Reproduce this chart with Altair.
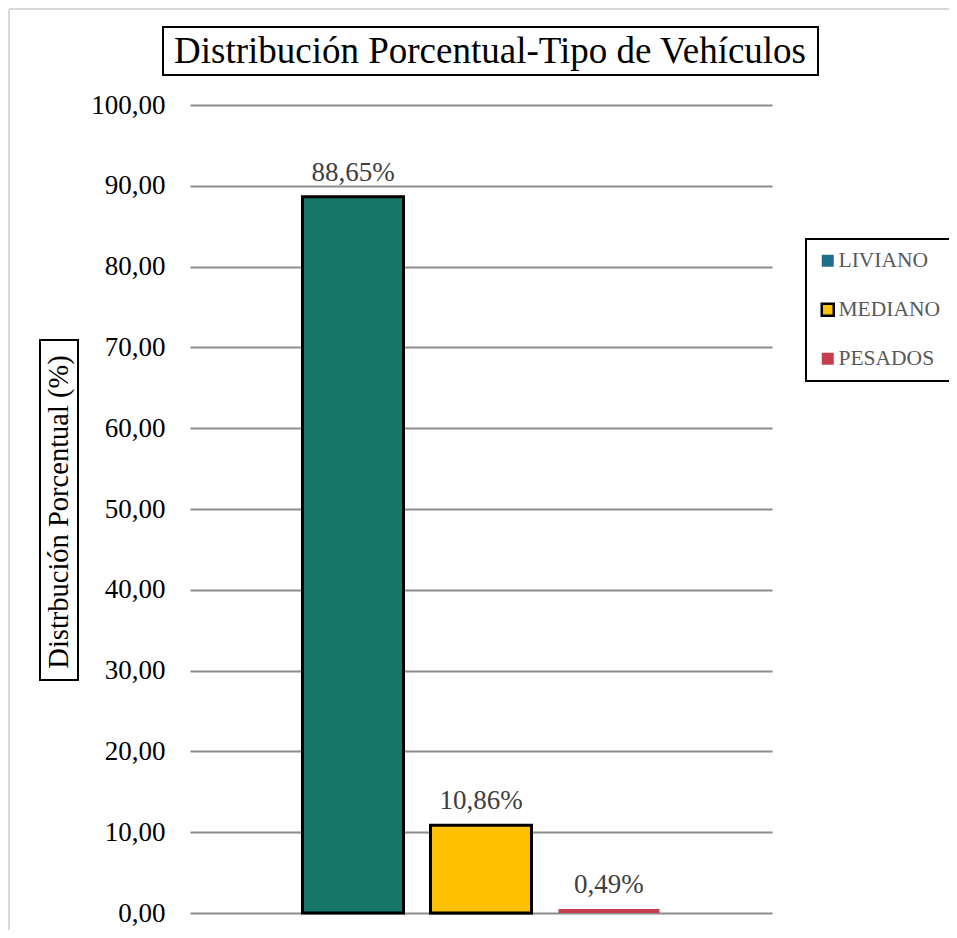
import altair as alt
import pandas as pd

# ---- data ----
tipos = ["LIVIANO", "MEDIANO", "PESADOS"]
valores = [88.65, 10.86, 0.49]
etiquetas = ["88,65%", "10,86%", "0,49%"]
y_ticks = [0, 10, 20, 30, 40, 50, 60, 70, 80, 90, 100]
titulo = ["Distribución Porcentual-Tipo de Vehículos"]
titulo_y = ["Distrbución Porcentual (%)"]

# ---- styles ----
bar_colors = ["#17766A", "#FFC000", "#C43E50"]
legend_colors = ["#1F6E8C", "#FFC000", "#C43E50"]
legend_strokes = ["transparent", "black", "transparent"]
FONT = "Liberation Serif"

W, H = 582, 808

df = pd.DataFrame({"tipo": tipos, "valor": valores, "etiqueta": etiquetas})
df["tipo2"] = df["tipo"]
df_t = pd.DataFrame({"t": titulo})
df_y = pd.DataFrame({"t": titulo_y})

x_enc = alt.X("tipo:N", sort=tipos, axis=None,
              scale=alt.Scale(paddingInner=0.211, paddingOuter=0.879))
y_enc = alt.Y("valor:Q", scale=alt.Scale(domain=[0, 100], nice=False),
              axis=alt.Axis(values=y_ticks, title=None,
                            labelExpr="replace(format(datum.value, '.2f'), '.', ',')",
                            labelFont=FONT, labelFontSize=27, labelColor="black",
                            ticks=False, domain=False, labelPadding=25,
                            grid=True, gridColor="#8C8C8C", gridWidth=2))

leg = alt.Legend(title=None, orient="none", legendX=616, legendY=134,
                 symbolType="square", symbolSize=144,
                 labelFont=FONT, labelFontSize=21.5, labelColor="#595959",
                 padding=11, rowPadding=26, labelOffset=0,
                 strokeColor="black", symbolStrokeWidth=2.5)

base = alt.Chart(df)

# legend-driving zero-height layer
legend_layer = base.transform_calculate(cero="0").mark_bar(strokeWidth=2.5).encode(
    x=x_enc,
    y=alt.Y("cero:Q"),
    fill=alt.Fill("tipo:N", sort=tipos,
                  scale=alt.Scale(domain=tipos, range=legend_colors), legend=leg),
    stroke=alt.Stroke("tipo:N", sort=tipos,
                      scale=alt.Scale(domain=tipos, range=legend_strokes), legend=leg),
)

bars = base.mark_bar(stroke="black", strokeWidth=3).encode(
    x=x_enc,
    y=y_enc,
    fill=alt.Fill("tipo2:N", scale=alt.Scale(domain=tipos, range=bar_colors), legend=None),
    strokeOpacity=alt.condition(alt.datum.tipo == "PESADOS", alt.value(0), alt.value(1)),
)

labels = base.mark_text(font=FONT, fontSize=27, color="#404040",
                        baseline="bottom", dy=-10).encode(
    x=x_enc, y="valor:Q", text="etiqueta:N")

title_box = alt.Chart(df_t).mark_rect(fill="white", stroke="black", strokeWidth=2).encode(
    x=alt.value(-27), x2=alt.value(628), y=alt.value(-78), y2=alt.value(-30))
title_txt = alt.Chart(df_t).mark_text(font=FONT, fontSize=37, color="black",
                                      baseline="middle", align="center").encode(
    x=alt.value(300), y=alt.value(-53), text="t:N")

ybox = alt.Chart(df_y).mark_rect(fill="white", stroke="black", strokeWidth=2).encode(
    x=alt.value(-150), x2=alt.value(-112), y=alt.value(235), y2=alt.value(575))
ytxt = alt.Chart(df_y).mark_text(font=FONT, fontSize=28.5, color="black", angle=270,
                                 baseline="middle", align="center").encode(
    x=alt.value(-131), y=alt.value(407), text="t:N")

border_top = alt.Chart(df_t).mark_rule(color="#D9D9D9", strokeWidth=2).encode(
    x=alt.value(-181), x2=alt.value(760), y=alt.value(-96))
border_left = alt.Chart(df_t).mark_rule(color="#D9D9D9", strokeWidth=2).encode(
    x=alt.value(-181), y=alt.value(-96), y2=alt.value(830))

chart = alt.layer(
    border_top, border_left, legend_layer, bars, labels,
    title_box, title_txt, ybox, ytxt
).resolve_scale(fill="independent", stroke="independent").properties(
    width=W, height=H,
    background="white",
    autosize=alt.AutoSizeParams(type="none"),
    padding={"left": 182, "top": 97, "right": 177, "bottom": 17},
).configure_view(stroke=None).configure_legend(strokeWidth=2)

chart.save("out.html", embed_options={"renderer": "svg", "actions": False})
